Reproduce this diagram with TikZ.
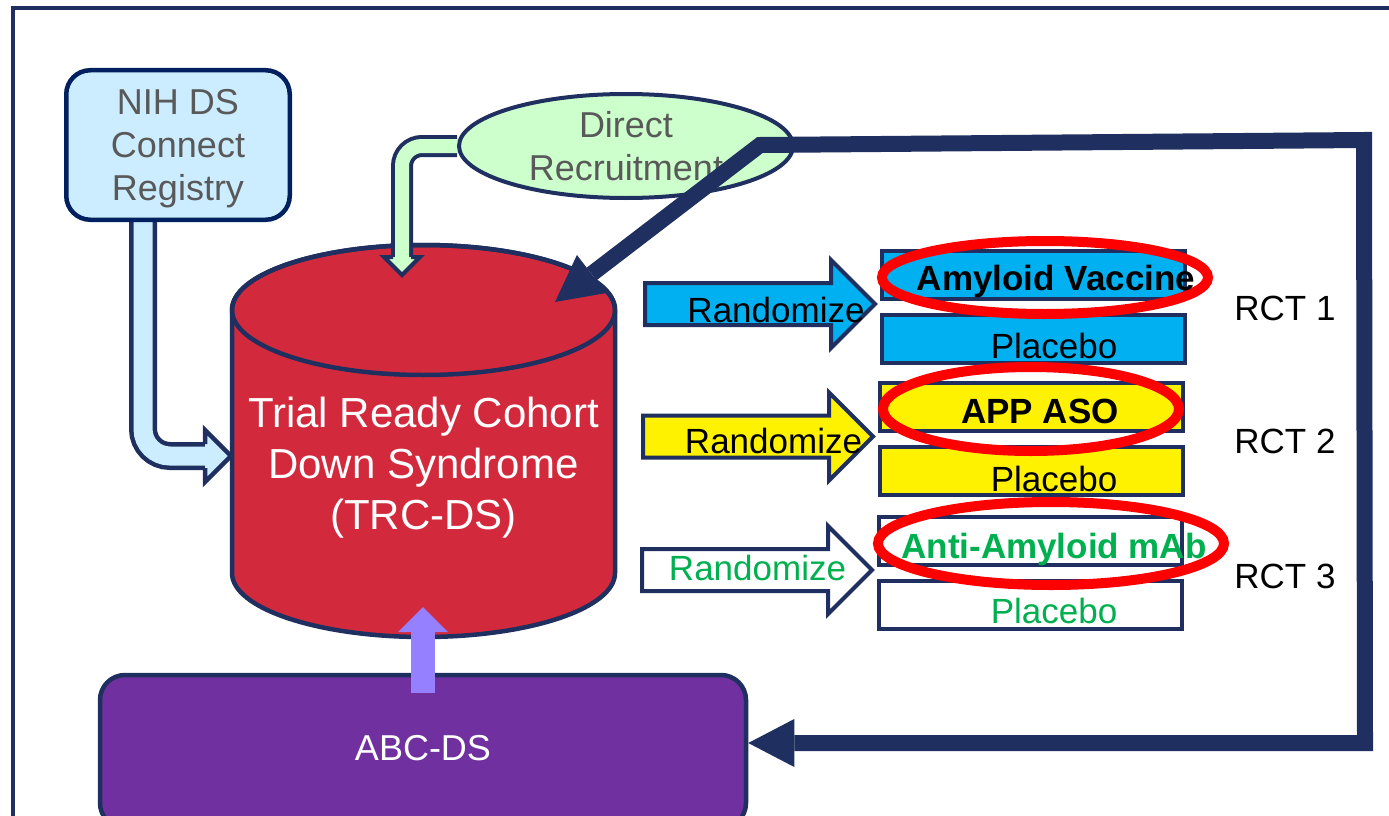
\documentclass[tikz,border=0pt]{standalone}
\usepackage{fontspec}
\setmainfont{Liberation Sans}
\usetikzlibrary{shapes.geometric,shapes.arrows,arrows.meta}
\pgfdeclarelayer{background}
\pgfsetlayers{background,main}

\definecolor{navy}{HTML}{1F3060}
\definecolor{regline}{HTML}{002060}
\definecolor{regblue}{HTML}{CCECFF}
\definecolor{recgreen}{HTML}{CCFFCC}
\definecolor{greytext}{HTML}{595959}
\definecolor{trcred}{HTML}{D22A3C}
\definecolor{abcpurple}{HTML}{7030A0}
\definecolor{uparrow}{HTML}{9580FF}
\definecolor{rctblue}{HTML}{00B0F0}
\definecolor{rctgreen}{HTML}{00B050}

\tikzset{
    txt/.style={font=\fontsize{35}{42}\selectfont, inner sep=0pt, anchor=base},
    btxt/.style={txt, font=\fontsize{35}{42}\selectfont\bfseries},
    armbox/.style={rectangle, draw=navy, line width=4pt, minimum width=303pt, minimum height=48pt, inner sep=0pt},
    randarrow/.style={single arrow, draw=navy, line width=4pt, single arrow head extend=23pt, single arrow tip angle=90, minimum height=230pt, minimum width=84pt, inner xsep=0pt, inner ysep=19pt, anchor=west},
    ring/.style={draw=red, line width=10pt},
}

\begin{document}
\begin{tikzpicture}[x=1pt, y=-1pt]
    \useasboundingbox (0, 0) rectangle (1389, 816);
    \clip (0, 0) rectangle (1389, 816);

    \draw[navy, line width=4.5pt] (1395, 8) -- (13, 8) -- (13, 830);

    \node[rectangle, rounded corners=24pt, draw=regline, fill=regblue, line width=4.5pt, minimum width=223.5pt, minimum height=149.5pt, align=center, text=greytext, font=\fontsize{36}{43}\selectfont, text depth=0pt] (nih) at (178, 145) {NIH DS\\Connect\\Registry};
    \node[ellipse, draw=navy, fill=recgreen, line width=4pt, minimum width=334pt, minimum height=104pt, inner sep=0pt, align=center, text=greytext, font=\fontsize{36}{43}\selectfont] (dr) at (626, 146) {Direct\\Recruitment};

    \coordinate (reghd) at (205, 456);
    \coordinate (drhd) at (402, 257);

    \begin{pgfonlayer}{background}
    \fill[white] (0, 0) rectangle (1389, 816);
    \filldraw[fill=trcred, draw=navy, line width=4.5pt] (232, 310) -- (232, 573) arc[start angle=180, end angle=0, x radius=191.5, y radius=64] -- (615, 310) arc[start angle=0, end angle=-180, x radius=191.5, y radius=65] -- cycle;
    \draw[navy, line width=4.5pt] (423.5, 310) ellipse[x radius=191.5, y radius=65];
    \draw[navy, line width=4.5pt, double=regblue, double distance=19pt, rounded corners=27pt] ([xshift=-35pt]nih.south) |- (reghd);
    \draw[navy, line width=4pt, double=recgreen, double distance=14pt, rounded corners=20pt] (dr.west) -| (drhd);
    \end{pgfonlayer}

    \filldraw[fill=regblue, draw=navy, line width=4.5pt] (reghd) ++(0, -12) -- ++(0, -14) -- ++(26, 26) -- ++(-26, 26) -- ++(0, -14);
    \filldraw[fill=recgreen, draw=navy, line width=4pt] (drhd) ++(-9, 0) -- ++(-9, 0) -- ++(18, 18) -- ++(18, -18) -- ++(-9, 0);

    \node[text=white, align=center, font=\fontsize{42}{51}\selectfont] (trc) at (423.5, 468) {Trial Ready Cohort\\Down Syndrome\\(TRC-DS)};

    \node[rectangle, rounded corners=25pt, draw=navy, fill=abcpurple, line width=4.5pt, minimum width=646pt, minimum height=153pt, text=white, font=\fontsize{36}{43}\selectfont, text depth=8pt] (abc) at (423, 751.5) {ABC-DS};

    \coordinate (cylbot) at (423, 607);
    \draw[uparrow, line width=24pt, -{Triangle[length=25pt, width=50pt, line width=0pt]}] ([yshift=-20pt]abc.north) -- (cylbot);

    \coordinate (cylin) at (555, 302);
    \coordinate (fbbr) at (1365, 743);
    \draw[navy, line width=16pt, {Triangle[length=46pt, width=48pt, line width=0pt]}-{Triangle[length=46pt, width=48pt, line width=0pt]}] (cylin) -- (760, 145) -- (1364, 140) -- (fbbr) -- (fbbr -| abc.east);

    \node[randarrow, fill=rctblue] (arr1) at (643, 304) {};
    \node[randarrow, fill=yellow] (arr2) at (641, 436.5) {};
    \node[randarrow, fill=white] (arr3) at (640, 570) {};
    \node[txt] (rnd1) at (776, 322) {Randomize};
    \node[txt] (rnd2) at (773.5, 453) {Randomize};
    \node[txt, text=rctgreen] (rnd3) at (757.5, 580) {Randomize};

    \node[armbox, fill=rctblue] (vac) at (1033.5, 275) {};
    \node[armbox, fill=rctblue] (pla1) at (1033.5, 339) {};
    \node[armbox, fill=yellow] (aso) at (1031.5, 407) {};
    \node[armbox, fill=yellow] (pla2) at (1031.5, 471) {};
    \node[armbox, fill=white] (mab) at (1030.5, 541) {};
    \node[armbox, fill=white] (pla3) at (1030.5, 604.5) {};

    \draw[ring] (1045, 277.5) ellipse[x radius=163, y radius=36.5];
    \draw[ring] (1031, 409) ellipse[x radius=148, y radius=42];
    \draw[ring] (1051, 543.5) ellipse[x radius=173, y radius=41.5];

    \node[btxt] (vactxt) at (1056, 290) {Amyloid Vaccine};
    \node[txt] (platxt1) at (1054, 358) {Placebo};
    \node[btxt] (asotxt) at (1040, 423) {APP ASO};
    \node[txt] (platxt2) at (1054, 491) {Placebo};
    \node[btxt, text=rctgreen] (mabtxt) at (1054, 558) {Anti-Amyloid mAb};
    \node[txt, text=rctgreen] (platxt3) at (1054, 623) {Placebo};

    \node[txt] (rct1) at (1285, 320) {RCT 1};
    \node[txt] (rct2) at (1285, 453) {RCT 2};
    \node[txt] (rct3) at (1285, 588) {RCT 3};
\end{tikzpicture}
\end{document}
